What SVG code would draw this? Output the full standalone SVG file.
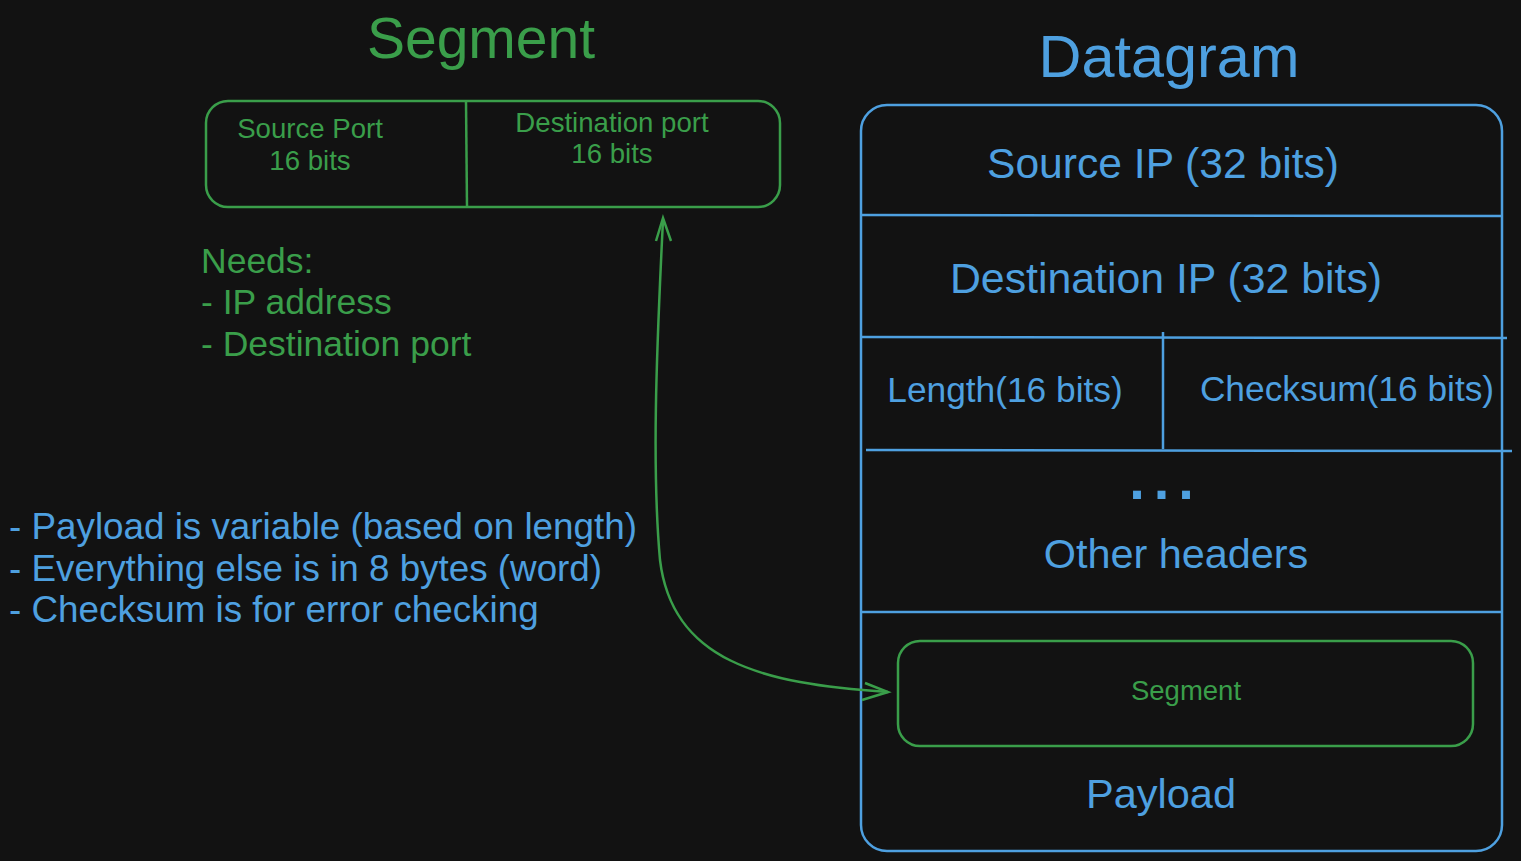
<svg xmlns="http://www.w3.org/2000/svg" width="1521" height="861" viewBox="0 0 1521 861">
<style>
.g{fill:#3a9e4a;font-family:"Liberation Sans",Arial,sans-serif}
.b{fill:#4ea0e0;font-family:"Liberation Sans",Arial,sans-serif}
.gs{fill:none;stroke:#3a9e4a;stroke-width:2.5}
.bs{fill:none;stroke:#4ea0e0;stroke-width:2.5}
</style>
<rect width="1521" height="861" fill="#121212"/>
<g id="segment-title"><text class="g" x="481" y="58" font-size="57" text-anchor="middle">Segment</text></g>
<g id="datagram-title"><text class="b" x="1169" y="77" font-size="59.4" text-anchor="middle">Datagram</text></g>
<g id="segment-box">
<rect class="gs" x="206" y="101" width="574" height="106" rx="22"/>
<line class="gs" x1="466" y1="101" x2="467" y2="207"/>
<text class="g" x="310" y="138" font-size="27.6" text-anchor="middle">Source Port</text>
<text class="g" x="310" y="170" font-size="27.6" text-anchor="middle">16 bits</text>
<text class="g" x="612" y="132" font-size="27.6" text-anchor="middle">Destination port</text>
<text class="g" x="612" y="163" font-size="27.6" text-anchor="middle">16 bits</text>
</g>
<g id="needs">
<text class="g" x="201" y="273" font-size="35.5">Needs:</text>
<text class="g" x="201" y="314" font-size="35.5">- IP address</text>
<text class="g" x="201" y="356" font-size="35.5">- Destination port</text>
</g>
<g id="notes">
<text class="b" x="9" y="539" font-size="36.8">- Payload is variable (based on length)</text>
<text class="b" x="9" y="581" font-size="36.8">- Everything else is in 8 bytes (word)</text>
<text class="b" x="9" y="622" font-size="36.8">- Checksum is for error checking</text>
</g>
<g id="datagram-box">
<rect class="bs" x="861" y="105" width="641" height="746" rx="26"/>
<line class="bs" x1="861" y1="215" x2="1502" y2="216"/>
<line class="bs" x1="861" y1="337" x2="1507" y2="338"/>
<line class="bs" x1="1163" y1="332" x2="1163" y2="449"/>
<line class="bs" x1="866" y1="450" x2="1512" y2="451"/>
<line class="bs" x1="861" y1="612" x2="1502" y2="612"/>
<text class="b" x="1163" y="178" font-size="42.6" text-anchor="middle">Source IP (32 bits)</text>
<text class="b" x="1166" y="293" font-size="42.8" text-anchor="middle">Destination IP (32 bits)</text>
<text class="b" x="1005" y="402" font-size="35.3" text-anchor="middle">Length(16 bits)</text>
<text class="b" x="1347" y="401" font-size="35.3" text-anchor="middle">Checksum(16 bits)</text>
<text class="b" x="1166" y="499" font-size="56" font-weight="bold" letter-spacing="9" text-anchor="middle">...</text>
<text class="b" x="1176" y="568" font-size="41.4" text-anchor="middle">Other headers</text>
<text class="b" x="1161" y="808" font-size="41.5" text-anchor="middle">Payload</text>
</g>
<g id="inner-segment">
<rect class="gs" x="898" y="641" width="575" height="105" rx="22"/>
<text class="g" x="1186" y="700" font-size="27.5" text-anchor="middle">Segment</text>
</g>
<g id="connectors">
<path class="gs" d="M663 220 C656 360 652 470 660 560 C672 660 760 684 888 692"/>
<path class="gs" d="M656 241 L663 218 L671 241"/>
<path class="gs" d="M865 683 L888 692 L862 700"/>
</g>
</svg>
